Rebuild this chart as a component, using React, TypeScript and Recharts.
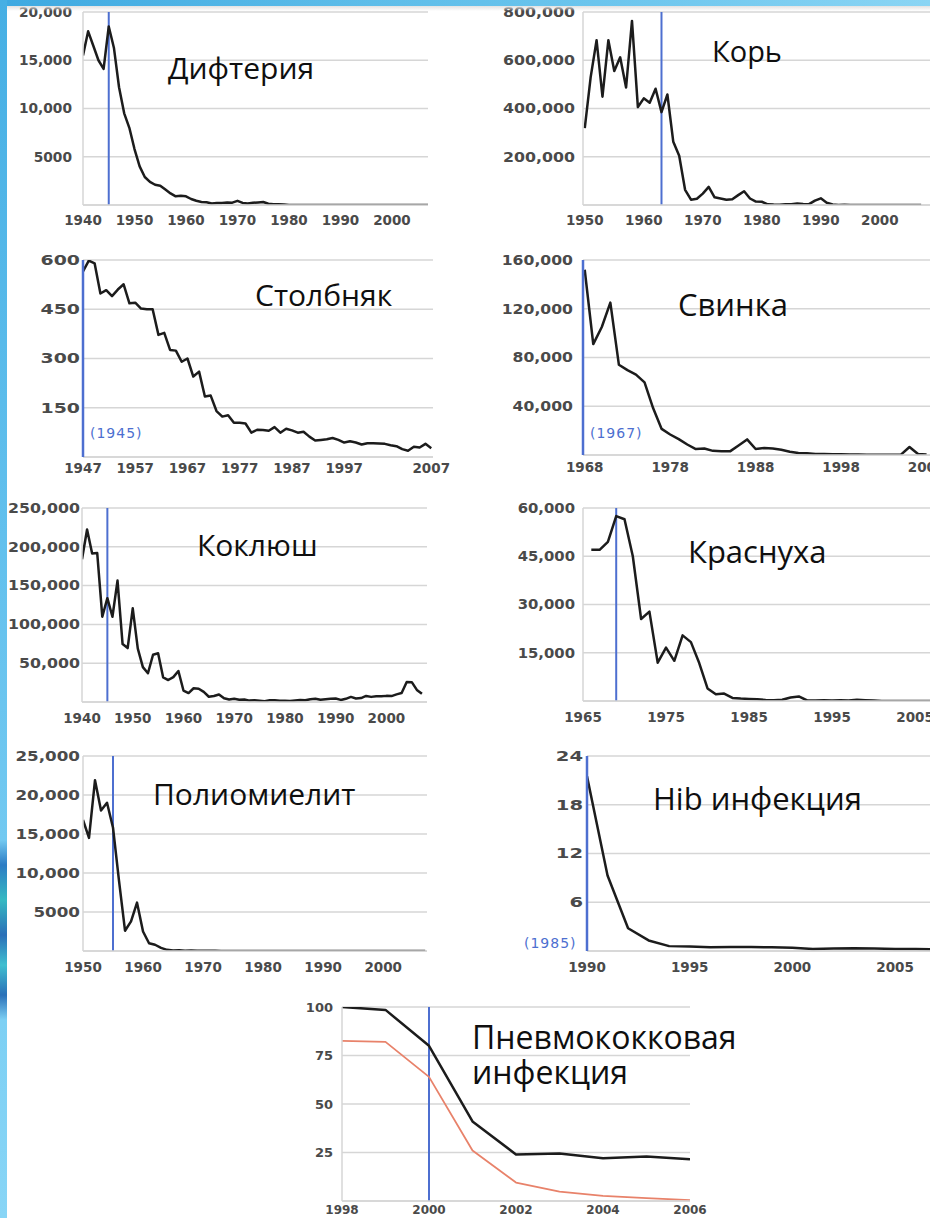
import React from 'react';
import { LineChart, Line, XAxis, YAxis, CartesianGrid, ReferenceLine } from 'recharts';

// ---- data ----

const diphtheriaStart = 1940;
const diphtheriaCases = [
  15500, 18000, 16500, 15000, 14100, 18500, 16300, 12200, 9500, 8000,
  5800, 4000, 2900, 2400, 2100, 2000, 1600, 1200, 900, 950,
  900, 620, 440, 310, 290, 160, 210, 220, 260, 240,
  430, 215, 150, 230, 270, 310, 130, 84, 76, 59,
  3, 5, 2, 5, 1, 3, 0, 3, 2, 3,
  4, 5, 4, 0, 2, 0, 2, 5, 1, 1,
  1, 2, 1, 1, 0, 0, 0, 0,
];
const diphtheriaXTicks = [1940, 1950, 1960, 1970, 1980, 1990, 2000];
const diphtheriaYTicks = [0, 5000, 10000, 15000, 20000];
const diphtheriaYLabels = ['', '5000', '10,000', '15,000', '20,000'];

const measlesStart = 1950;
const measlesCases = [
  319000, 530000, 683000, 449000, 683000, 555000, 612000, 487000, 763000, 406000,
  442000, 424000, 482000, 385000, 458000, 262000, 204000, 63000, 22000, 26000,
  47000, 75000, 32000, 27000, 22000, 24000, 41000, 57000, 27000, 14000,
  13500, 3000, 1700, 1500, 2600, 2800, 6300, 3700, 3400, 18000,
  27800, 9600, 2200, 300, 960, 300, 500, 140, 100, 100,
  90, 120, 44, 56, 37, 66, 55, 43,
];
const measlesXTicks = [1950, 1960, 1970, 1980, 1990, 2000];
const measlesYTicks = [0, 200000, 400000, 600000, 800000];
const measlesYLabels = ['', '200,000', '400,000', '600,000', '800,000'];

const tetanusStart = 1947;
const tetanusCases = [
  565, 598, 590, 498, 508, 490, 510, 526, 468, 470,
  452, 450, 450, 372, 378, 326, 324, 290, 300, 245,
  260, 184, 187, 140, 123, 127, 104, 104, 102, 74,
  83, 82, 80, 91, 74, 86, 81, 74, 77, 62,
  50, 52, 54, 58, 52, 44, 48, 44, 38, 42,
  42, 41, 40, 36, 33, 24, 19, 31, 29, 40,
  27,
];
const tetanusXTicks = [1947, 1956, 1965, 1974, 1983, 1992, 2007];
const tetanusXLabels = ['1947', '1957', '1967', '1977', '1987', '1997', '2007'];
const tetanusYTicks = [0, 150, 300, 450, 600];
const tetanusYLabels = ['', '150', '300', '450', '600'];

const mumpsStart = 1968;
const mumpsCases = [
  152000, 91000, 105000, 125000, 74000, 69600, 66000, 59600, 38500, 21400,
  16800, 13000, 8600, 4900, 5300, 3400, 3000, 3000, 7800, 12800,
  4900, 5700, 5300, 4300, 2600, 1700, 1500, 900, 750, 680,
  670, 390, 340, 270, 270, 230, 260, 310, 6600, 800,
  450,
];
const mumpsXTicks = [1968, 1978, 1988, 1998, 2008];
const mumpsYTicks = [0, 40000, 80000, 120000, 160000];
const mumpsYLabels = ['', '40,000', '80,000', '120,000', '160,000'];

const pertussisStart = 1940;
const pertussisCases = [
  183900, 222200, 191400, 191900, 109900, 133800, 109900, 156500, 74700, 69500,
  120700, 68700, 45000, 37100, 60900, 62800, 31700, 28300, 32100, 40000,
  14800, 11500, 17700, 17100, 13000, 6800, 7700, 9700, 4800, 3300,
  4200, 3000, 3300, 1800, 2400, 1700, 1000, 2200, 2100, 1600,
  1700, 1200, 1900, 2500, 2300, 3600, 4200, 2800, 3500, 4200,
  4600, 2700, 4100, 6600, 4600, 5100, 7800, 6600, 7400, 7300,
  7900, 7600, 9800, 11600, 25800, 25600, 15600, 10500,
];
const pertussisXTicks = [1940, 1950, 1960, 1970, 1980, 1990, 2000];
const pertussisYTicks = [0, 50000, 100000, 150000, 200000, 250000];
const pertussisYLabels = ['', '50,000', '100,000', '150,000', '200,000', '250,000'];

const rubellaStart = 1966;
const rubellaCases = [
  47000, 47000, 49500, 57500, 56500, 45000, 25500, 27800, 11900, 16600,
  12500, 20400, 18300, 11800, 3900, 2100, 2300, 970, 750, 630,
  550, 310, 230, 400, 1100, 1400, 160, 190, 230, 130,
  240, 180, 360, 270, 180, 23, 18, 7, 10, 11,
  11, 12,
];
const rubellaXTicks = [1965, 1975, 1985, 1995, 2005];
const rubellaYTicks = [0, 15000, 30000, 45000, 60000];
const rubellaYLabels = ['', '15,000', '30,000', '45,000', '60,000'];

const polioStart = 1950;
const polioCases = [
  16800, 14500, 21900, 18000, 19000, 15800, 9000, 2600, 3800, 6200,
  2500, 1000, 800, 400, 150, 60, 100, 40, 50, 20,
  30, 20, 30, 10, 10, 10, 10, 10, 10, 8,
  8, 8, 8, 6, 6, 6, 5, 5, 5, 5,
  4, 4, 4, 3, 3, 2, 2, 1, 1, 1,
  0, 0, 0, 0, 0, 0, 0, 0,
];
const polioXTicks = [1950, 1960, 1970, 1980, 1990, 2000];
const polioYTicks = [0, 5000, 10000, 15000, 20000, 25000];
const polioYLabels = ['', '5000', '10,000', '15,000', '20,000', '25,000'];

const hibStart = 1990;
const hibRate = [21.5, 9.3, 2.8, 1.3, 0.6, 0.55, 0.45, 0.5, 0.5, 0.45, 0.4, 0.25, 0.3, 0.35, 0.3, 0.25, 0.25, 0.2];
const hibXTicks = [1990, 1995, 2000, 2005];
const hibYTicks = [0, 6, 12, 18, 24];
const hibYLabels = ['', '6', '12', '18', '24'];

const pneumoStart = 1998;
const pneumoAll = [100, 98.5, 80, 41, 24, 24.5, 22, 23, 21.5];
const pneumoVaccineTypes = [82.5, 82, 64, 26, 9.5, 4.8, 2.6, 1.5, 0.5];
const pneumoXTicks = [1998, 2000, 2002, 2004, 2006];
const pneumoYTicks = [0, 25, 50, 75, 100];
const pneumoYLabels = ['', '25', '50', '75', '100'];

// ---- styling ----

const GRID = '#d6d6d6';
const TICK = '#4a4a4a';
const BLUE = '#4d6fd0';
const INK = '#1c1c1c';
const tickFont = "'DejaVu Sans', Verdana, sans-serif";
const titleFont = "'Open Sans', 'Noto Sans', sans-serif";

const toRows = (start: number, values: number[]) => values.map((v, i) => ({ x: start + i, v }));

const pneumoRows = pneumoAll.map((v, i) => ({ x: pneumoStart + i, v, r: pneumoVaccineTypes[i] }));

type Series = { key: string; color: string; width: number };

type PanelDef = {
  id: string;
  rows: any[];
  series: Series[];
  plotLeft: number;
  plotTop: number;
  plotW: number;
  plotH: number;
  xDomain: [number, number];
  xTicks: number[];
  xLabels?: string[];
  xFont: number;
  xGap: number;
  yMax: number;
  yTicks: number[];
  yLabels: string[];
  yFont: number;
  yStretch: number;
  yGap: number;
  marker?: number;
  axisMarker?: boolean;
};

const black: Series[] = [{ key: 'v', color: INK, width: 2.5 }];

const panels: PanelDef[] = [
  {
    id: 'diphtheria', rows: toRows(diphtheriaStart, diphtheriaCases), series: black,
    plotLeft: 83, plotTop: 12, plotW: 345, plotH: 193,
    xDomain: [1940, 2007], xTicks: diphtheriaXTicks, xFont: 13.5, xGap: 15,
    yMax: 20000, yTicks: diphtheriaYTicks, yLabels: diphtheriaYLabels, yFont: 13.5, yStretch: 1.02, yGap: 11,
    marker: 1945,
  },
  {
    id: 'measles', rows: toRows(measlesStart, measlesCases), series: black,
    plotLeft: 583, plotTop: 12, plotW: 347, plotH: 193,
    xDomain: [1949.7, 2008.5], xTicks: measlesXTicks, xFont: 13.5, xGap: 15,
    yMax: 800000, yTicks: measlesYTicks, yLabels: measlesYLabels, yFont: 13.5, yStretch: 1.17, yGap: 8,
    marker: 1963,
  },
  {
    id: 'tetanus', rows: toRows(tetanusStart, tetanusCases), series: black,
    plotLeft: 83, plotTop: 260, plotW: 350, plotH: 197,
    xDomain: [1947, 2007.3], xTicks: tetanusXTicks, xLabels: tetanusXLabels, xFont: 13.5, xGap: 11,
    yMax: 600, yTicks: tetanusYTicks, yLabels: tetanusYLabels, yFont: 13.5, yStretch: 1.4, yGap: 3,
    axisMarker: true,
  },
  {
    id: 'mumps', rows: toRows(mumpsStart, mumpsCases), series: black,
    plotLeft: 583, plotTop: 260, plotW: 347, plotH: 195,
    xDomain: [1967.8, 2008.4], xTicks: mumpsXTicks, xFont: 13.5, xGap: 12,
    yMax: 160000, yTicks: mumpsYTicks, yLabels: mumpsYLabels, yFont: 13.5, yStretch: 1.16, yGap: 10,
    axisMarker: true,
  },
  {
    id: 'pertussis', rows: toRows(pertussisStart, pertussisCases), series: black,
    plotLeft: 82, plotTop: 508, plotW: 345, plotH: 194,
    xDomain: [1940, 2008], xTicks: pertussisXTicks, xFont: 13.5, xGap: 16,
    yMax: 250000, yTicks: pertussisYTicks, yLabels: pertussisYLabels, yFont: 13.5, yStretch: 1.17, yGap: 2,
    marker: 1945,
  },
  {
    id: 'rubella', rows: toRows(rubellaStart, rubellaCases), series: black,
    plotLeft: 583, plotTop: 508, plotW: 347, plotH: 193,
    xDomain: [1965, 2006.8], xTicks: rubellaXTicks, xFont: 13.5, xGap: 16,
    yMax: 60000, yTicks: rubellaYTicks, yLabels: rubellaYLabels, yFont: 13.5, yStretch: 1.1, yGap: 8,
    marker: 1969,
  },
  {
    id: 'polio', rows: toRows(polioStart, polioCases), series: black,
    plotLeft: 83, plotTop: 756, plotW: 344, plotH: 195,
    xDomain: [1950, 2007.3], xTicks: polioXTicks, xFont: 13.5, xGap: 16,
    yMax: 25000, yTicks: polioYTicks, yLabels: polioYLabels, yFont: 13.5, yStretch: 1.24, yGap: 3,
    marker: 1955,
  },
  {
    id: 'hib', rows: toRows(hibStart, hibRate), series: black,
    plotLeft: 587, plotTop: 756, plotW: 343, plotH: 195,
    xDomain: [1990, 2006.7], xTicks: hibXTicks, xFont: 13.5, xGap: 16,
    yMax: 24, yTicks: hibYTicks, yLabels: hibYLabels, yFont: 13.5, yStretch: 1.45, yGap: 4,
    axisMarker: true,
  },
  {
    id: 'pneumo', rows: pneumoRows,
    series: [
      { key: 'v', color: INK, width: 2.5 },
      { key: 'r', color: '#e8826a', width: 1.8 },
    ],
    plotLeft: 342, plotTop: 1007, plotW: 348, plotH: 194,
    xDomain: [1998, 2006], xTicks: pneumoXTicks, xFont: 12, xGap: 9,
    yMax: 100, yTicks: pneumoYTicks, yLabels: pneumoYLabels, yFont: 13, yStretch: 1.0, yGap: 9,
    marker: 2000,
  },
];

// single-line titles; the two-line pneumococcal title is drawn as one block below
const titles = [
  { text: 'Дифтерия', left: 168, cy: 71, size: 30 },
  { text: 'Корь', left: 712, cy: 53, size: 29 },
  { text: 'Столбняк', left: 255, cy: 298, size: 30 },
  { text: 'Свинка', left: 678, cy: 308, size: 31 },
  { text: 'Коклюш', left: 197, cy: 548, size: 30 },
  { text: 'Краснуха', left: 688, cy: 555, size: 31 },
  { text: 'Полиомиелит', left: 153, cy: 797, size: 30 },
  { text: 'Hib инфекция', left: 653, cy: 802, size: 31 },
];
const pneumoTitleLines = ['Пневмококковая', 'инфекция'];

const notes = [
  { text: '(1945)', left: 90, cy: 433 },
  { text: '(1967)', left: 590, cy: 433 },
  { text: '(1985)', left: 524, cy: 943 },
];

function Panel({ def }: { def: PanelDef }) {
  const yw = 90;
  const mt = 12;
  const xh = 34;
  const mr = 30;

  const yTick = (p: any) => {
    const i = def.yTicks.indexOf(p.payload.value);
    const label = i >= 0 ? def.yLabels[i] : '';
    return (
      <g transform={`translate(${p.x},${p.y})`}>
        <text
          x={0}
          y={0}
          dy="0.36em"
          textAnchor="end"
          fontSize={def.yFont}
          fontWeight="bold"
          fontFamily={tickFont}
          fill={TICK}
          transform={`scale(${def.yStretch},1)`}
        >
          {label}
        </text>
      </g>
    );
  };

  const xTick = (p: any) => {
    const i = def.xTicks.indexOf(p.payload.value);
    const label = def.xLabels && i >= 0 ? def.xLabels[i] : String(p.payload.value);
    return (
      <text
        x={p.x}
        y={p.y}
        dy="0.36em"
        textAnchor="middle"
        fontSize={def.xFont}
        fontWeight="bold"
        fontFamily={tickFont}
        fill={TICK}
      >
        {label}
      </text>
    );
  };

  return (
    <div style={{ position: 'absolute', left: def.plotLeft - yw, top: def.plotTop - mt }}>
      <LineChart
        width={yw + def.plotW + mr}
        height={mt + def.plotH + xh}
        data={def.rows}
        margin={{ top: mt, right: mr, bottom: 0, left: 0 }}
      >
        <CartesianGrid vertical={false} stroke={GRID} strokeWidth={1.5} />
        <XAxis
          dataKey="x"
          type="number"
          domain={def.xDomain}
          ticks={def.xTicks}
          allowDataOverflow
          interval={0}
          height={xh}
          tickSize={0}
          tickMargin={def.xGap}
          tickLine={false}
          axisLine={{ stroke: GRID, strokeWidth: 1.5 }}
          tick={xTick}
        />
        <YAxis
          type="number"
          domain={[0, def.yMax]}
          ticks={def.yTicks}
          allowDataOverflow
          interval={0}
          width={yw}
          tickSize={0}
          tickMargin={def.yGap}
          tickLine={false}
          axisLine={def.axisMarker ? { stroke: BLUE, strokeWidth: 2.5 } : { stroke: GRID, strokeWidth: 1.5 }}
          tick={yTick}
        />
        {def.marker !== undefined && (
          <ReferenceLine x={def.marker} stroke={BLUE} strokeWidth={2} />
        )}
        {def.series.map((s) => (
          <Line
            key={s.key}
            type="linear"
            dataKey={s.key}
            stroke={s.color}
            strokeWidth={s.width}
            strokeLinejoin="round"
            dot={false}
            activeDot={false}
            isAnimationActive={false}
          />
        ))}
      </LineChart>
    </div>
  );
}

export default function App() {
  const noteSize = 14;
  return (
    <div
      style={{
        position: 'absolute',
        left: 0,
        top: 0,
        width: 930,
        height: 1218,
        overflow: 'hidden',
        background: '#ffffff',
      }}
    >
      {panels.map((d) => (
        <Panel key={d.id} def={d} />
      ))}

      {titles.map((t) => (
        <div
          key={t.text}
          style={{
            position: 'absolute',
            left: t.left,
            top: t.cy - t.size * 0.6,
            fontFamily: titleFont,
            fontSize: t.size,
            lineHeight: 1,
            color: '#0f0f0f',
            whiteSpace: 'nowrap',
          }}
        >
          {t.text}
        </div>
      ))}

      <div
        style={{
          position: 'absolute',
          left: 472,
          top: 1019,
          fontFamily: titleFont,
          fontSize: 32,
          lineHeight: '35px',
          color: '#0f0f0f',
          whiteSpace: 'nowrap',
        }}
      >
        {pneumoTitleLines[0]}
        <br />
        {pneumoTitleLines[1]}
      </div>

      {notes.map((n) => (
        <div
          key={n.text}
          style={{
            position: 'absolute',
            left: n.left,
            top: n.cy - noteSize * 0.5,
            fontFamily: tickFont,
            fontSize: noteSize,
            lineHeight: 1,
            letterSpacing: 1,
            color: BLUE,
            whiteSpace: 'nowrap',
          }}
        >
          {n.text}
        </div>
      ))}

      {/* slide frame */}
      <div
        style={{
          position: 'absolute',
          left: 0,
          top: 6,
          width: 930,
          height: 5,
          background: 'linear-gradient(to bottom, #e2e2e2, rgba(255,255,255,0))',
        }}
      />
      <div
        style={{
          position: 'absolute',
          left: 0,
          top: 0,
          width: 930,
          height: 6,
          background: 'linear-gradient(to right, #3ea9e1, #5dbde9 40%, #6fc7ee 70%, #8ad5f4)',
        }}
      />
      <div
        style={{
          position: 'absolute',
          left: 0,
          top: 0,
          width: 7,
          height: 1218,
          background:
            'linear-gradient(to bottom, #46afe4 0px, #5bbceb 400px, #72c9f1 840px, #2c7cc4 865px, #35b9c2 900px, #2a6fb8 935px, #3fbfd0 965px, #2a70b8 995px, #7dd0f4 1020px, #88d5f6 1218px)',
        }}
      />
    </div>
  );
}
